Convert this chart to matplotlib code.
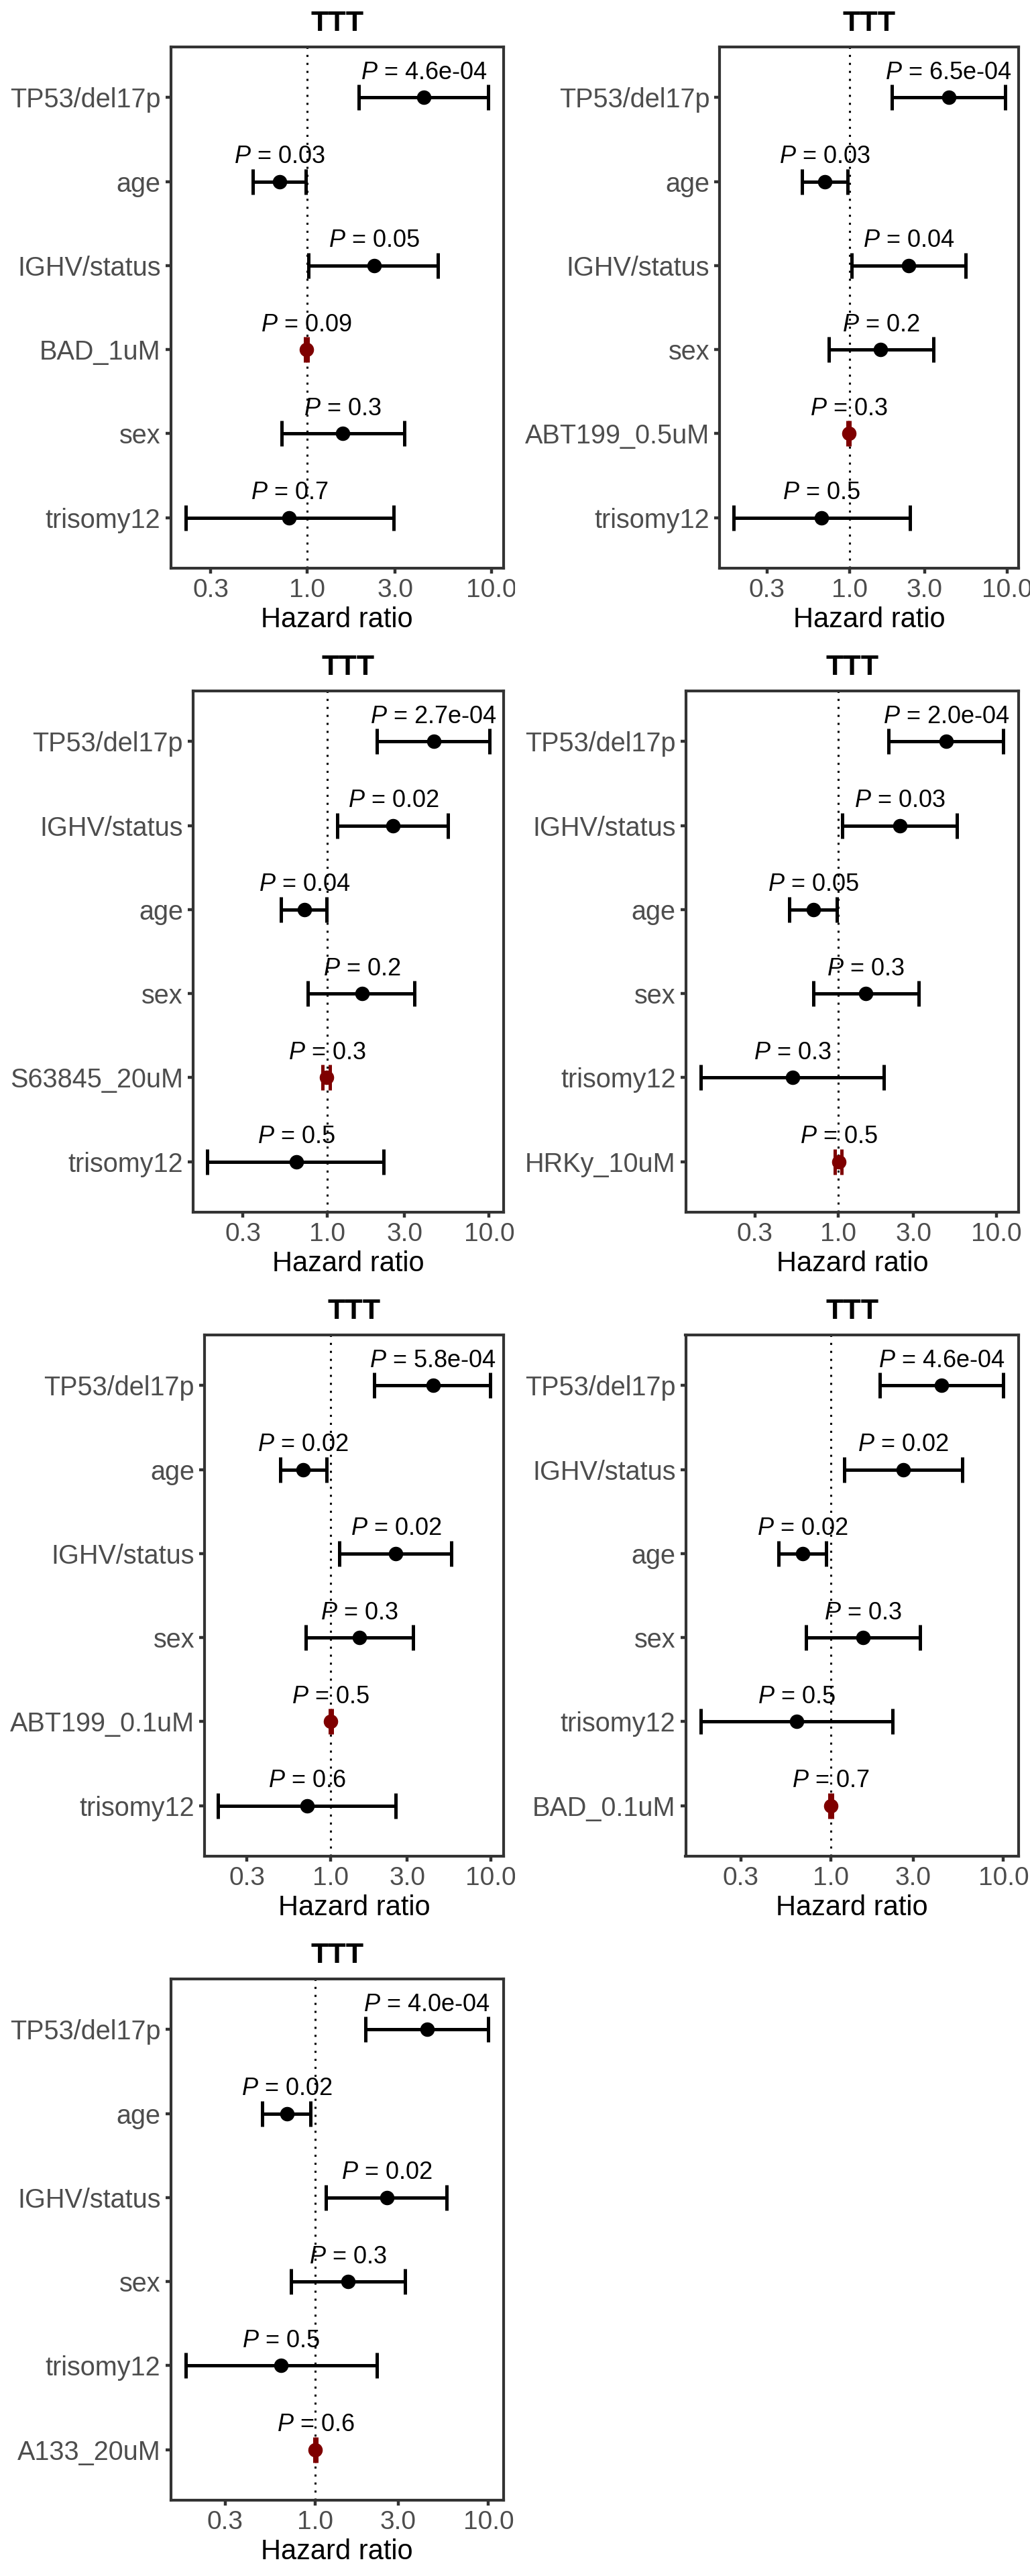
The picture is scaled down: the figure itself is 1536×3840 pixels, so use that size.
import matplotlib
matplotlib.use("Agg")
import matplotlib.pyplot as plt
from matplotlib.transforms import Bbox, TransformedBbox

plt.rcParams['font.family'] = ['Liberation Sans', 'DejaVu Sans']
plt.rcParams['mathtext.fontset'] = 'custom'
plt.rcParams['mathtext.it'] = 'Liberation Sans:italic'
plt.rcParams['mathtext.rm'] = 'Liberation Sans'

# Data: one entry per panel, rows listed top to bottom
panel_labels = [
    ["TP53/del17p", "age", "IGHV/status", "BAD_1uM", "sex", "trisomy12"],
    ["TP53/del17p", "age", "IGHV/status", "sex", "ABT199_0.5uM", "trisomy12"],
    ["TP53/del17p", "IGHV/status", "age", "sex", "S63845_20uM", "trisomy12"],
    ["TP53/del17p", "IGHV/status", "age", "sex", "trisomy12", "HRKy_10uM"],
    ["TP53/del17p", "age", "IGHV/status", "sex", "ABT199_0.1uM", "trisomy12"],
    ["TP53/del17p", "IGHV/status", "age", "sex", "trisomy12", "BAD_0.1uM"],
    ["TP53/del17p", "age", "IGHV/status", "sex", "trisomy12", "A133_20uM"],
]
panel_drug = ["BAD_1uM", "ABT199_0.5uM", "S63845_20uM", "HRKy_10uM",
              "ABT199_0.1uM", "BAD_0.1uM", "A133_20uM"]
panel_hr = [
    [4.29, 0.71, 2.30, 0.99, 1.56, 0.80],
    [4.26, 0.70, 2.38, 1.58, 0.99, 0.667],
    [4.54, 2.55, 0.72, 1.63, 0.99, 0.64],
    [4.82, 2.46, 0.70, 1.50, 0.52, 1.01],
    [4.35, 0.67, 2.55, 1.51, 1.00, 0.71],
    [4.38, 2.63, 0.684, 1.53, 0.635, 1.00],
    [4.41, 0.682, 2.59, 1.54, 0.63, 1.00],
]
panel_lo = [
    [1.91, 0.508, 1.02, 0.975, 0.73, 0.22],
    [1.86, 0.50, 1.03, 0.74, 0.975, 0.183],
    [2.01, 1.15, 0.517, 0.757, 0.93, 0.18],
    [2.09, 1.07, 0.496, 0.698, 0.137, 0.958],
    [1.87, 0.484, 1.13, 0.70, 0.985, 0.198],
    [1.92, 1.19, 0.495, 0.717, 0.176, 0.985],
    [1.94, 0.492, 1.15, 0.72, 0.178, 0.985],
]
panel_hi = [
    [9.6, 0.98, 5.1, 1.005, 3.35, 2.93],
    [9.72, 0.97, 5.46, 3.40, 1.005, 2.42],
    [10.05, 5.56, 0.99, 3.46, 1.03, 2.23],
    [11.05, 5.61, 0.99, 3.24, 1.95, 1.06],
    [9.86, 0.936, 5.66, 3.25, 1.015, 2.55],
    [10.0, 5.79, 0.937, 3.27, 2.28, 1.015],
    [10.0, 0.933, 5.75, 3.28, 2.26, 1.015],
]
panel_p = [
    ["4.6e-04", "0.03", "0.05", "0.09", "0.3", "0.7"],
    ["6.5e-04", "0.03", "0.04", "0.2", "0.3", "0.5"],
    ["2.7e-04", "0.02", "0.04", "0.2", "0.3", "0.5"],
    ["2.0e-04", "0.03", "0.05", "0.3", "0.3", "0.5"],
    ["5.8e-04", "0.02", "0.02", "0.3", "0.5", "0.6"],
    ["4.6e-04", "0.02", "0.02", "0.3", "0.5", "0.7"],
    ["4.0e-04", "0.02", "0.02", "0.3", "0.5", "0.6"],
]
x_ticks = [0.3, 1.0, 3.0, 10.0]
x_tick_labels = ["0.3", "1.0", "3.0", "10.0"]

W, H, DPI = 1536, 3840, 100
fig = plt.figure(figsize=(W / DPI, H / DPI), dpi=DPI)
renderer = fig.canvas.get_renderer()

axes = []
for i in range(len(panel_labels)):
    r, c = divmod(i, 2)
    x0, y0 = c * 768, r * 960
    labels = panel_labels[i]
    ys = list(range(1, len(labels) + 1))

    ax = fig.add_axes([0.1, 0.1, 0.3, 0.1])
    ax.axvline(1.0, color='black', lw=2.2, ls=(0, (1, 2.9)), zorder=1)
    for y, lab, hr, lo, hi, p in zip(ys, labels, panel_hr[i], panel_lo[i],
                                     panel_hi[i], panel_p[i]):
        col = '#7f0000' if lab == panel_drug[i] else 'black'
        ax.errorbar([hr], [y], xerr=[[hr - lo], [hi - hr]], fmt='none',
                    ecolor=col, elinewidth=3.6, capsize=13.5, capthick=3.6,
                    zorder=2)
        ax.plot([hr], [y], 'o', color=col, ms=14.5, zorder=3)
        ax.text(hr, y - 0.22, r"$\it{P}$ = " + p, ha='center', va='baseline',
                fontsize=26, color='black', zorder=4)

    ax.set_xscale('log')
    ax.set_xticks(x_ticks)
    ax.set_xticklabels(x_tick_labels)
    ax.minorticks_off()
    ax.set_yticks(ys)
    ax.set_yticklabels(labels)
    ax.set_ylim(len(labels) + 0.6, 0.4)
    ax.tick_params(axis='both', direction='out', length=5.8, width=3.2,
                   color='#333333', labelcolor='#4d4d4d', labelsize=28.5,
                   pad=5)
    ax.tick_params(axis='x', labelsize=28)
    for s in ax.spines.values():
        s.set_color('#333333')
        s.set_linewidth(3.0)
    ax.set_xlabel("Hazard ratio", fontsize=30, labelpad=4)
    ax.set_title("TTT", fontsize=31, fontweight='bold', pad=17)

    # place the panel box: labels start ~15px from the cell edge
    wmax = max(t.get_window_extent(renderer).width for t in ax.get_yticklabels())
    left = x0 + 30 + wmax
    right = x0 + 751
    top, bottom = y0 + 70, y0 + 847
    ax.set_position([left / W, 1 - bottom / H, (right - left) / W,
                     (bottom - top) / H])
    axes.append((ax, x0))

fig.canvas.draw()
for ax, x0 in axes:
    clip = TransformedBbox(Bbox([[x0 / W, 0], [(x0 + 768) / W, 1]]),
                           fig.transFigure)
    for t in ax.get_xticklabels():
        t.set_clip_box(clip)
        t.set_clip_on(True)

fig.savefig("out.png", dpi=DPI)
